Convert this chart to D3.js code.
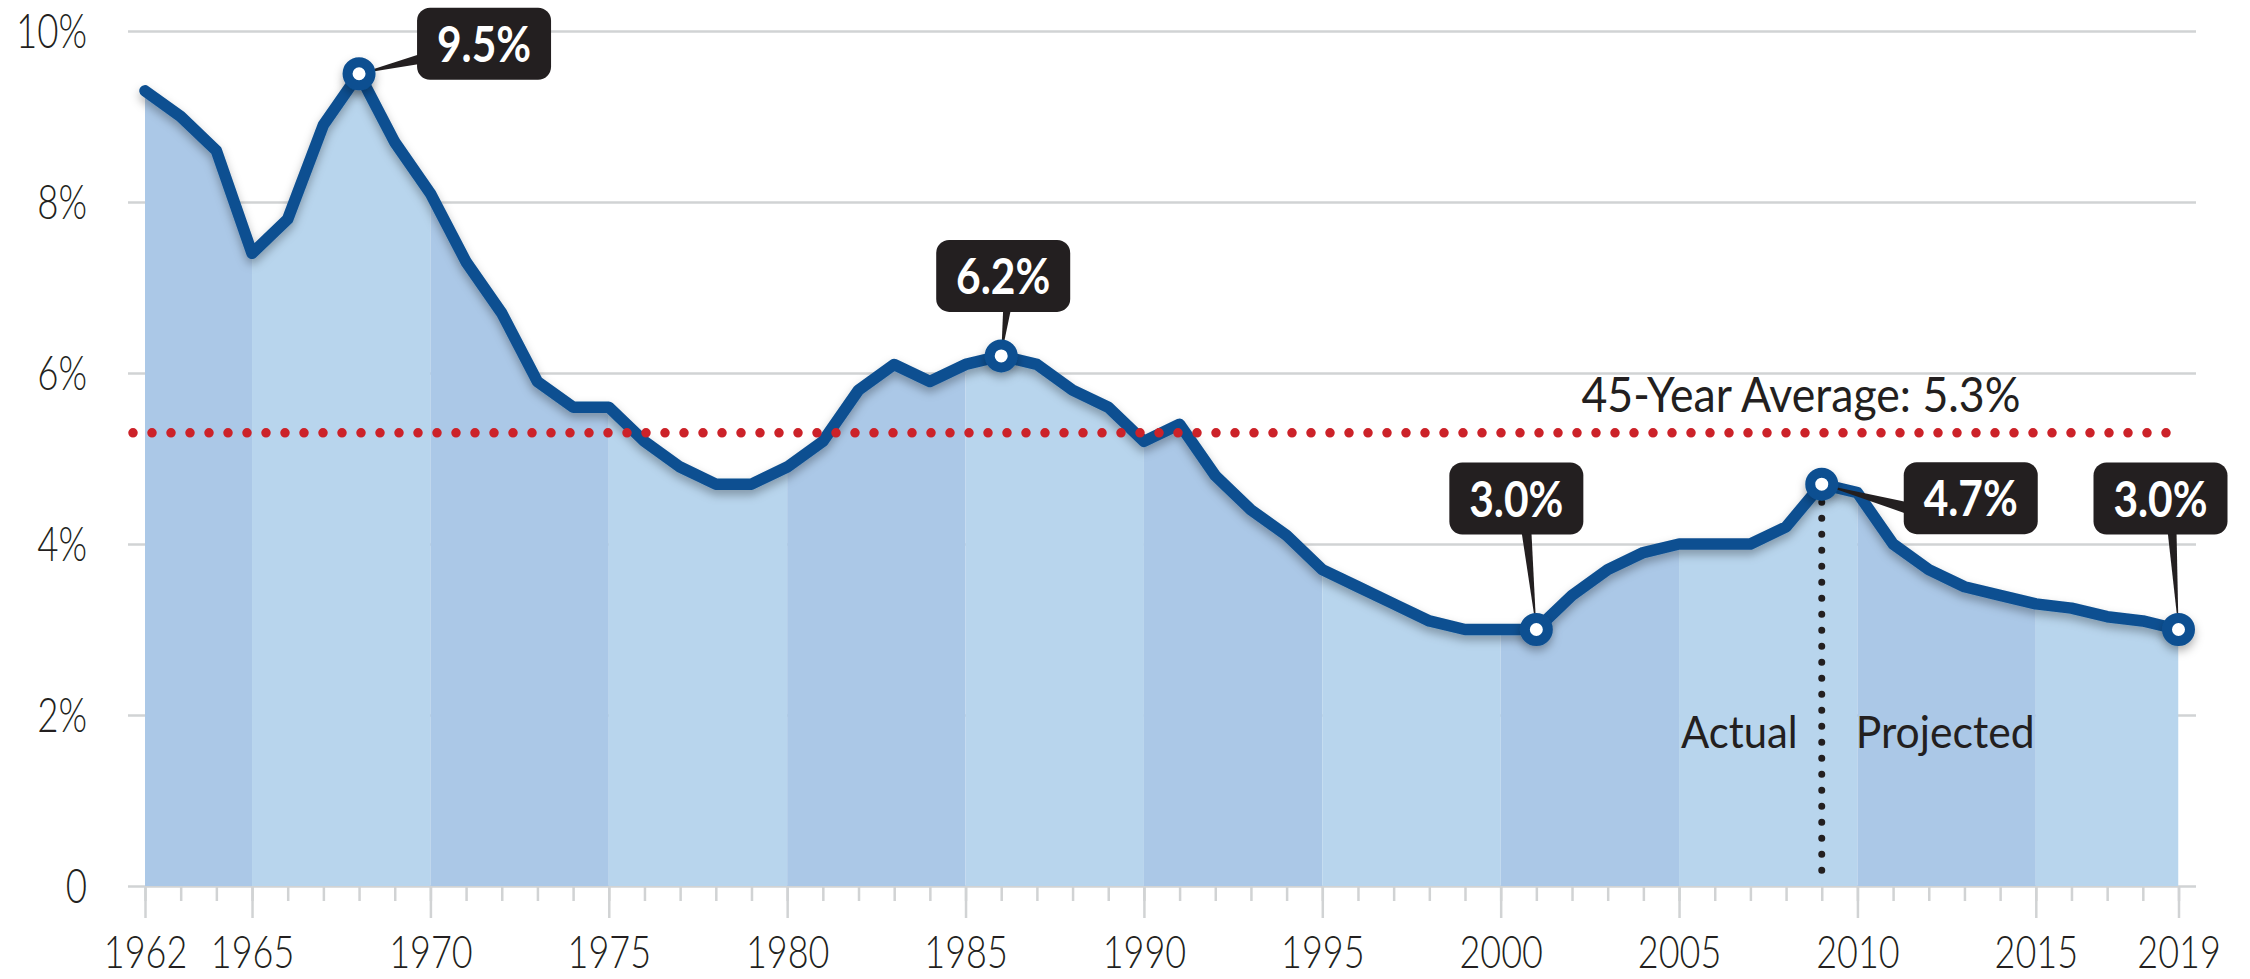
<!DOCTYPE html>
<html><head><meta charset="utf-8">
<script src="https://cdn.jsdelivr.net/npm/d3@7"></script>
<style>html,body{margin:0;padding:0;background:#fff;} svg{display:block}</style>
</head><body>
<svg id="chart" width="2250" height="979"></svg>
<script>
// ---------- DATA ----------
const years = [1962,1963,1964,1965,1966,1967,1968,1969,1970,1971,1972,1973,1974,1975,1976,1977,1978,1979,
  1980,1981,1982,1983,1984,1985,1986,1987,1988,1989,1990,1991,1992,1993,1994,1995,1996,1997,1998,1999,
  2000,2001,2002,2003,2004,2005,2006,2007,2008,2009,2010,2011,2012,2013,2014,2015,2016,2017,2018,2019];
const values = [9.3,9.0,8.6,7.4,7.8,8.9,9.5,8.7,8.1,7.3,6.7,5.9,5.6,5.6,5.2,4.9,4.7,4.7,
  4.9,5.2,5.8,6.1,5.9,6.1,6.2,6.1,5.8,5.6,5.2,5.4,4.8,4.4,4.1,3.7,3.5,3.3,3.1,3.0,
  3.0,3.0,3.4,3.7,3.9,4.0,4.0,4.0,4.2,4.7,4.6,4.0,3.7,3.5,3.4,3.3,3.25,3.15,3.1,3.0];
const yTickValues = [0,2,4,6,8,10];
const yTickLabels = ["0","2%","4%","6%","8%","10%"];
const xTickYears = [1962,1965,1970,1975,1980,1985,1990,1995,2000,2005,2010,2015,2019];
const xTickLabels = ["1962","1965","1970","1975","1980","1985","1990","1995","2000","2005","2010","2015","2019"];
const bandEdges = [1962,1965,1970,1975,1980,1985,1990,1995,2000,2005,2010,2015,2019];
const averageValue = 5.3;
const averageLabel = "45-Year Average: 5.3%";
const splitYear = 2009;
const splitLabels = ["Actual","Projected"];
const calloutYears = [1968,1986,2001,2009,2019];
const calloutLabels = ["9.5%","6.2%","3.0%","4.7%","3.0%"];

// ---------- LAYOUT / STYLE ----------
const plotLeft = 128, plotRight = 2196;
const x = d3.scaleLinear().domain([1962,2019]).range([145,2178.5]);
const y = d3.scaleLinear().domain([0,10]).range([886,31]);
const C = {
  grid:"#d1d3d4", dark:"#abc8e7", light:"#b8d5ed", line:"#0b4f91",
  red:"#cc2229", ink:"#231f20"
};
const FONT = "Lato, 'Open Sans', sans-serif";
const boxW = 134, boxH = 72;
const calloutLayout = [
  {dx:58, dy:-66, side:"left", a:-20, b:-10},
  {dx:-65, dy:-116, side:"bottom", a:67, b:75},
  {dx:-87, dy:-167, side:"bottom", a:72, b:82},
  {dx:82, dy:-22, side:"left", a:18, b:30},
  {dx:-85, dy:-167, side:"bottom", a:74, b:83}
];

const svg = d3.select("#chart");
const defs = svg.append("defs");
const f = defs.append("filter").attr("id","shadow").attr("x","-5%").attr("y","-20%").attr("width","110%").attr("height","150%");
f.append("feDropShadow").attr("dx",0).attr("dy",5).attr("stdDeviation",5).attr("flood-color","#000").attr("flood-opacity",0.3);

const data = years.map((yr,i)=>({year:yr, value:values[i]}));

function squeeze(sel, k){
  sel.each(function(){
    const w = this.getComputedTextLength();
    d3.select(this).attr("textLength", w*k).attr("lengthAdjust","spacingAndGlyphs");
  });
}

// gridlines + y labels
const yAxis = d3.axisLeft(y).tickValues(yTickValues)
  .tickFormat((d,i)=>yTickLabels[i]).tickSize(-(plotRight-plotLeft)).tickPadding(41);
const gy = svg.append("g").attr("transform",`translate(${plotLeft},0)`).call(yAxis);
gy.select(".domain").remove();
gy.selectAll(".tick line").attr("stroke",C.grid).attr("stroke-width",2.5);
gy.selectAll(".tick text").attr("fill",C.ink).attr("font-family",FONT).attr("font-weight",300)
  .attr("font-size",47).attr("dy","0.36em").call(squeeze,0.78);

// x axis ticks
const gMinor = svg.append("g").attr("transform",`translate(0,${y(0)})`)
  .call(d3.axisBottom(x).tickValues(years).tickSize(15).tickFormat(""));
gMinor.select(".domain").remove();
gMinor.selectAll(".tick line").attr("stroke",C.grid).attr("stroke-width",2.5);
const gMajor = svg.append("g").attr("transform",`translate(0,${y(0)})`)
  .call(d3.axisBottom(x).tickValues(xTickYears).tickSize(32).tickFormat((d,i)=>xTickLabels[i]));
gMajor.select(".domain").remove();
gMajor.selectAll(".tick line").attr("stroke",C.grid).attr("stroke-width",2.5);
gMajor.selectAll(".tick text").attr("fill",C.ink).attr("font-family",FONT).attr("font-weight",300)
  .attr("font-size",45).attr("y",82).attr("dy",0).call(squeeze,0.8);

// area bands clipped to area
const area = d3.area().x(d=>x(d.year)).y0(y(0)).y1(d=>y(d.value));
defs.append("clipPath").attr("id","areaClip").append("path").attr("d",area(data));
const bands = d3.pairs(bandEdges);
svg.append("g").attr("clip-path","url(#areaClip)").selectAll("rect").data(bands).join("rect")
  .attr("x",d=>x(d[0])).attr("width",d=>x(d[1])-x(d[0]))
  .attr("y",y(10)).attr("height",y(0)-y(10))
  .attr("fill",(d,i)=>i%2===0?C.dark:C.light);

// vertical split dotted line
svg.append("line").attr("x1",x(splitYear)).attr("x2",x(splitYear))
  .attr("y1",y(values[years.indexOf(splitYear)])+18).attr("y2",y(0)-1)
  .attr("stroke",C.ink).attr("stroke-width",7).attr("stroke-linecap","round").attr("stroke-dasharray","0 16");

// split labels
svg.append("text").text(splitLabels[0]).attr("x",x(splitYear)-24).attr("y",748).attr("text-anchor","end")
  .attr("font-family",FONT).attr("font-size",44).attr("fill",C.ink).call(squeeze,0.95);
svg.append("text").text(splitLabels[1]).attr("x",x(splitYear)+34).attr("y",748).attr("text-anchor","start")
  .attr("font-family",FONT).attr("font-size",44).attr("fill",C.ink).call(squeeze,0.97);

// main line with shadow
const line = d3.line().x(d=>x(d.year)).y(d=>y(d.value));
const gLine = svg.append("g").attr("filter","url(#shadow)");
gLine.append("path").attr("d",line(data)).attr("fill","none").attr("stroke",C.line)
  .attr("stroke-width",11.5).attr("stroke-linejoin","round").attr("stroke-linecap","round");

// average dotted line
svg.append("line").attr("x1",133).attr("x2",2168).attr("y1",y(averageValue)).attr("y2",y(averageValue))
  .attr("stroke",C.red).attr("stroke-width",9.5).attr("stroke-linecap","round").attr("stroke-dasharray","0 19");
svg.append("text").text(averageLabel).attr("x",1801).attr("y",412).attr("text-anchor","middle")
  .attr("font-family",FONT).attr("font-size",48).attr("fill",C.ink).call(squeeze,0.93);

// callouts
const cData = calloutYears.map((yr,i)=>({year:yr,label:calloutLabels[i],value:values[years.indexOf(yr)],L:calloutLayout[i]}));
const gC = svg.append("g");
cData.forEach(d=>{
  const mx = x(d.year), my = y(d.value);
  const bx = mx + d.L.dx, by = my + d.L.dy;
  let pts;
  if (d.L.side==="left") pts = [[mx,my],[bx+4,my+d.L.a],[bx+4,my+d.L.b]];
  else pts = [[mx,my],[bx+d.L.a,by+boxH-4],[bx+d.L.b,by+boxH-4]];
  gC.append("polygon").attr("points",pts.map(p=>p.join(",")).join(" ")).attr("fill",C.ink);
  gC.append("rect").attr("x",bx).attr("y",by).attr("width",boxW).attr("height",boxH)
    .attr("rx",13).attr("fill",C.ink);
  gC.append("text").text(d.label).attr("x",bx+boxW/2).attr("y",by+boxH/2).attr("dy","0.36em")
    .attr("text-anchor","middle").attr("font-family",FONT).attr("font-weight",700)
    .attr("font-size",50).attr("fill","#fff").call(squeeze,0.85);
});
// markers
svg.append("g").attr("filter","url(#shadow)").selectAll("circle").data(cData).join("circle")
  .attr("cx",d=>x(d.year)).attr("cy",d=>y(d.value)).attr("r",11.5)
  .attr("fill","#fff").attr("stroke",C.line).attr("stroke-width",10);
</script>
</body></html>
